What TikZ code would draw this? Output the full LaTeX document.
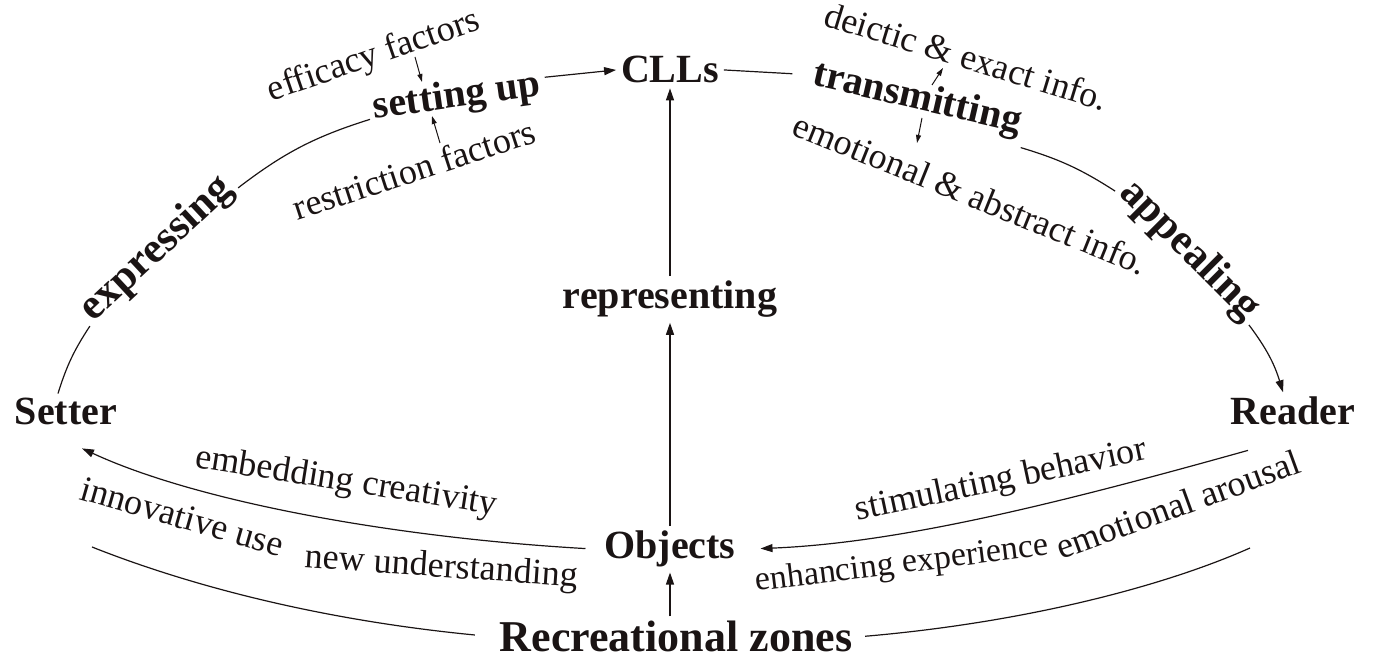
\documentclass[tikz,border=0pt]{standalone}
\usepackage{fontspec}
\setmainfont{Liberation Serif}
\usetikzlibrary{arrows.meta}
\definecolor{ink}{HTML}{1A1414}
\newcommand{\stagefont}{\fontsize{40}{44}\selectfont\bfseries}
\newcommand{\notefont}{\fontsize{36}{40}\selectfont}
\tikzset{
  stage/.style={font=\stagefont, text=ink, inner sep=0pt, outer sep=5pt, anchor=base},
  note/.style={font=\notefont, text=ink, inner sep=0pt, outer sep=3pt, anchor=base},
  link/.style={draw=ink, line width=1.2pt},
  flow/.style={link, -{Triangle[length=12pt,width=8pt]}},
  hint/.style={draw=ink, line width=1pt, -{Triangle[length=8pt,width=5pt]}}
}

\begin{document}
\begin{tikzpicture}[x=1pt,y=1pt]
  \useasboundingbox (0,0) rectangle (1377,663);
  \path
  (670,580) node[stage] (clls) {CLLs}
  (670,354) node[stage] (repr) {representing}
  (670,104) node[stage] (objects) {Objects}
  (676,11) node[stage, font=\fontsize{44}{48}\selectfont\bfseries] (zones) {Recreational zones}
  (66,238) node[stage] (setter) {Setter}
  (1293,238) node[stage] (reader) {Reader}
  (458,556) node[stage, rotate=8] (setup) {setting up}
  (915,554) node[stage, rotate=-13] (transmit) {transmitting}
  (164,406) node[stage, font=\fontsize{43}{47}\selectfont\bfseries, rotate=43] (express) {expressing}
  (1182,405) node[stage, font=\fontsize{43}{47}\selectfont\bfseries, rotate=-45] (appeal) {appealing}
  (377,598) node[note, rotate=19] (efficacy) {efficacy factors}
  (418,482) node[note, rotate=18] (restrict) {restriction factors}
  (963,595) node[note, rotate=-17] (deictic) {deictic \& exact info.}
  (966,458) node[note, rotate=-22] (emotion) {emotional \& abstract info.}
  (345,172) node[note, rotate=-9] (embed) {embedding creativity}
  (179,135) node[note, rotate=-16] (innov) {innovative use}
  (441,86) node[note, rotate=-4] (newund) {new understanding}
  (1003,173) node[note, rotate=12] (stimul) {stimulating behavior}
  (903,90) node[note, font=\fontsize{34}{38}\selectfont, rotate=7] (enhance) {enhancing experience}
  (1182,147) node[note, rotate=20] (arousal) {emotional arousal}
  ;
  \coordinate (lefttail) at (92,116);
  \coordinate (righttail) at (1250,115);

  \draw[link] ([xshift=-8pt]setter.north) to[bend left=8] (express.base west);
  \draw[link] (express.base east) to[bend left=10] (setup.base west);
  \draw[flow] ([yshift=8pt]setup.east) -- (clls.west);
  \draw[link, shorten >=16pt] (clls.east) -- (transmit.west);
  \draw[link] (transmit.south east) to[bend left=8] (appeal.base west);
  \draw[flow] (appeal.base east) to[bend left=10] ([xshift=-10pt]reader.north);

  \draw[flow] (repr.north) -- (clls.south);
  \draw[flow] (objects.north) -- (repr.south);
  \draw[flow] (objects |- zones.north) -- (objects.south);

  \draw[flow, shorten <=14pt] (objects.west) .. controls (400,125) and (200,160) .. ([shift={(16pt,-18pt)}]setter.south);
  \draw[flow, shorten >=20pt] ([shift={(-45pt,-20pt)}]reader.south) .. controls (1060,160) and (900,120) .. (objects.east);
  \draw[link, shorten <=20pt] (zones.west) .. controls (300,45) and (170,85) .. (lefttail);
  \draw[link, shorten <=8pt] (zones.east) .. controls (1020,40) and (1160,75) .. (righttail);

  \draw[hint] ([shift={(38pt,8pt)}]efficacy.base) -- ([shift={(-36pt,25pt)}]setup.base);
  \draw[hint] ([shift={(22pt,38pt)}]restrict.base) -- ([shift={(-26pt,-9pt)}]setup.base);
  \draw[hint] ([shift={(17pt,24pt)}]transmit.base) -- ([shift={(-20pt,0pt)}]deictic.base);
  \draw[hint] ([shift={(7pt,-9pt)}]transmit.base) -- ([shift={(-49pt,62pt)}]emotion.base);
\end{tikzpicture}
\end{document}
